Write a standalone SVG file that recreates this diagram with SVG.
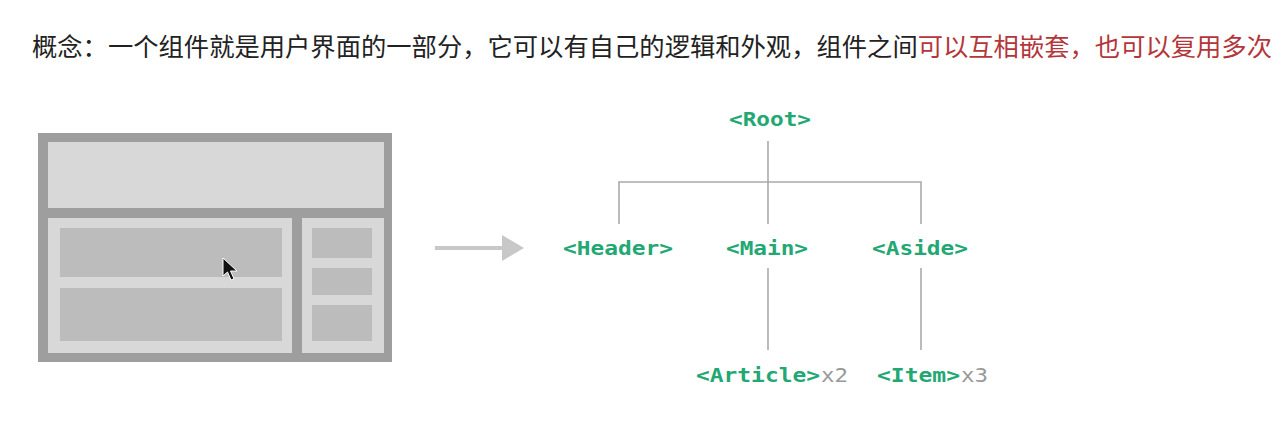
<svg xmlns="http://www.w3.org/2000/svg" width="1283" height="434" viewBox="0 0 1283 434">
<style>
.title{font-family:"Noto Sans CJK SC","Noto Sans",sans-serif;font-size:25px;fill:#222}
.red{fill:#b3363b}
.tag{font-family:"DejaVu Sans Mono","Liberation Mono",monospace;font-weight:bold;font-size:20px;fill:#23a874}
.cnt{font-family:"DejaVu Sans Mono","Liberation Mono",monospace;font-size:20px;fill:#999}
.conn{stroke:#ababab;stroke-width:1.6;fill:none}
.panel{fill:#d8d8d8}
.blk{fill:#bcbcbc}
</style>
<rect width="1283" height="434" fill="#ffffff"/>
<text class="title" x="32" y="56" textLength="1240" lengthAdjust="spacingAndGlyphs">概念：一个组件就是用户界面的一部分，它可以有自己的逻辑和外观，组件之间<tspan class="red">可以互相嵌套，也可以复用多次</tspan></text>

<g id="layout">
<rect x="38" y="133" width="354" height="229" fill="#9e9e9e"/>
<rect class="panel" x="48" y="142" width="336" height="66"/>
<rect class="panel" x="48" y="218" width="244" height="135"/>
<rect class="panel" x="302" y="218" width="82" height="135"/>
<rect class="blk" x="60" y="228" width="222" height="49"/>
<rect class="blk" x="60" y="288" width="222" height="53"/>
<rect class="blk" x="312" y="228" width="60" height="30"/>
<rect class="blk" x="312" y="268" width="60" height="27"/>
<rect class="blk" x="312" y="305" width="60" height="36"/>
<polygon points="223,258 223,276 227.5,272 231,280 234,278.7 230.5,271 237,271" fill="#111" stroke="#fff" stroke-width="1"/>
</g>

<g id="arrow">
<line x1="435" y1="248" x2="503" y2="248" stroke="#c8c8c8" stroke-width="4"/>
<polygon points="502,235 524,248 502,261" fill="#c8c8c8"/>
</g>

<g id="connectors">
<line class="conn" x1="768" y1="141" x2="768" y2="224"/>
<polyline class="conn" points="619,224 619,182 921,182 921,224"/>
<line class="conn" x1="768" y1="268" x2="768" y2="350"/>
<line class="conn" x1="921" y1="268" x2="921" y2="350"/>
</g>

<g id="root"><text class="tag" x="729" y="126" textLength="82" lengthAdjust="spacingAndGlyphs">&lt;Root&gt;</text></g>
<g id="header"><text class="tag" x="563" y="255" textLength="110" lengthAdjust="spacingAndGlyphs">&lt;Header&gt;</text></g>
<g id="main"><text class="tag" x="726" y="255" textLength="82" lengthAdjust="spacingAndGlyphs">&lt;Main&gt;</text></g>
<g id="aside"><text class="tag" x="872" y="255" textLength="96" lengthAdjust="spacingAndGlyphs">&lt;Aside&gt;</text></g>
<g id="article"><text class="tag" x="696" y="382" textLength="124" lengthAdjust="spacingAndGlyphs">&lt;Article&gt;</text><text class="cnt" x="821" y="382" textLength="27" lengthAdjust="spacingAndGlyphs">x2</text></g>
<g id="item"><text class="tag" x="877" y="382" textLength="83" lengthAdjust="spacingAndGlyphs">&lt;Item&gt;</text><text class="cnt" x="961" y="382" textLength="27" lengthAdjust="spacingAndGlyphs">x3</text></g>
</svg>
